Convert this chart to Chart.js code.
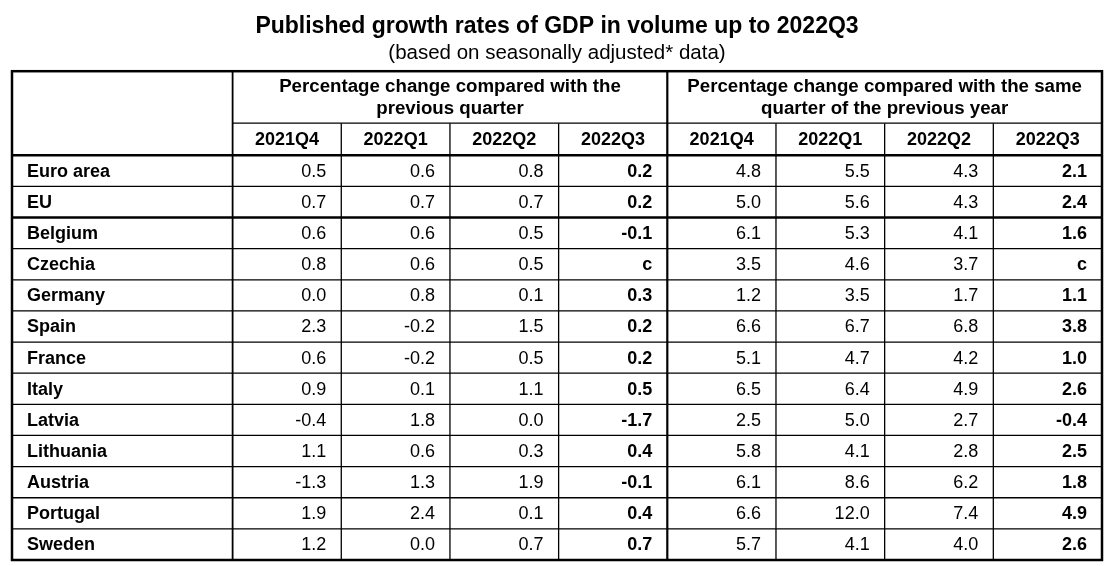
<!DOCTYPE html>
<html lang="en">
<head>
<meta charset="UTF-8">
<title>Published growth rates of GDP in volume up to 2022Q3</title>
<script src="https://cdn.jsdelivr.net/npm/chart.js@4.4.0/dist/chart.umd.min.js"></script>
<style>
  html, body { margin: 0; padding: 0; background: #fff; }
</style>
</head>
<body>
<canvas id="gdpTable" width="1113" height="566"></canvas>
<script>
const countries = ['Euro area', 'EU', 'Belgium', 'Czechia', 'Germany', 'Spain', 'France',
                   'Italy', 'Latvia', 'Lithuania', 'Austria', 'Portugal', 'Sweden'];
const quarters = ['2021Q4', '2022Q1', '2022Q2', '2022Q3'];
const groupTitles = [
  ['Percentage change compared with the', 'previous quarter'],
  ['Percentage change compared with the same', 'quarter of the previous year']
];

// q-o-q (null = confidential, shown as "c")
const qoq2021Q4 = [0.5, 0.7, 0.6, 0.8, 0.0, 2.3, 0.6, 0.9, -0.4, 1.1, -1.3, 1.9, 1.2];
const qoq2022Q1 = [0.6, 0.7, 0.6, 0.6, 0.8, -0.2, -0.2, 0.1, 1.8, 0.6, 1.3, 2.4, 0.0];
const qoq2022Q2 = [0.8, 0.7, 0.5, 0.5, 0.1, 1.5, 0.5, 1.1, 0.0, 0.3, 1.9, 0.1, 0.7];
const qoq2022Q3 = [0.2, 0.2, -0.1, null, 0.3, 0.2, 0.2, 0.5, -1.7, 0.4, -0.1, 0.4, 0.7];
// y-o-y
const yoy2021Q4 = [4.8, 5.0, 6.1, 3.5, 1.2, 6.6, 5.1, 6.5, 2.5, 5.8, 6.1, 6.6, 5.7];
const yoy2022Q1 = [5.5, 5.6, 5.3, 4.6, 3.5, 6.7, 4.7, 6.4, 5.0, 4.1, 8.6, 12.0, 4.1];
const yoy2022Q2 = [4.3, 4.3, 4.1, 3.7, 1.7, 6.8, 4.2, 4.9, 2.7, 2.8, 6.2, 7.4, 4.0];
const yoy2022Q3 = [2.1, 2.4, 1.6, null, 1.1, 3.8, 1.0, 2.6, -0.4, 2.5, 1.8, 4.9, 2.6];

const columns = [qoq2021Q4, qoq2022Q1, qoq2022Q2, qoq2022Q3,
                 yoy2021Q4, yoy2022Q1, yoy2022Q2, yoy2022Q3];

const FONT = "'Liberation Sans', Arial, sans-serif";
const LABEL_W = 2.03;      // width of the country column, in column units
const HEAD1 = -2.7;        // top of first header row (y units = data rows)
const HEAD2 = -1.03;       // top of quarter header row
const PAD = 15;            // cell padding in px

function fmt(v) {
  return v === null ? 'c' : v.toFixed(1);
}

// one scatter dataset per value column, each point = anchor at cell's right edge
const datasets = columns.map((vals, i) => ({
  label: (i < 4 ? 'q-o-q ' : 'y-o-y ') + quarters[i % 4],
  data: vals.map((v, r) => ({ x: LABEL_W + i + 1, y: r + 0.5, v: v })),
  pointRadius: 0,
  bold: i % 4 === 3
}));
datasets.push({
  label: 'countries',
  data: countries.map((c, r) => ({ x: 0, y: r + 0.5, v: c })),
  pointRadius: 0,
  isLabel: true
});

const tablePlugin = {
  id: 'gdpTable',
  afterDatasetsDraw(chart) {
    const { ctx, scales: { x, y } } = chart;
    const X = v => x.getPixelForValue(v);
    const Y = v => y.getPixelForValue(v);
    const xMax = LABEL_W + 8;
    const nRows = countries.length;

    ctx.save();
    ctx.strokeStyle = '#000';
    function line(x0, y0, x1, y1, w) {
      ctx.lineWidth = w;
      ctx.beginPath();
      ctx.moveTo(X(x0), Y(y0));
      ctx.lineTo(X(x1), Y(y1));
      ctx.stroke();
    }

    // thin grid lines
    for (let r = 1; r < nRows; r++) {
      if (r !== 2) line(0, r, xMax, r, 1.3);
    }
    line(LABEL_W, HEAD2, xMax, HEAD2, 1.3);
    for (let i = 1; i < 8; i++) {
      if (i !== 4) line(LABEL_W + i, HEAD2, LABEL_W + i, nRows, 1.3);
    }
    // heavier lines
    line(LABEL_W, HEAD1, LABEL_W, nRows, 1.8);
    line(LABEL_W + 4, HEAD1, LABEL_W + 4, nRows, 2.2);
    line(0, 0, xMax, 0, 2.5);
    line(0, 2, xMax, 2, 2.5);
    ctx.lineWidth = 2.5;
    ctx.strokeRect(X(0), Y(HEAD1), X(xMax) - X(0), Y(nRows) - Y(HEAD1));

    // header texts
    ctx.fillStyle = '#000';
    ctx.textBaseline = 'middle';
    ctx.textAlign = 'center';
    ctx.font = 'bold 18.7px ' + FONT;
    const midH1 = (Y(HEAD1) + Y(HEAD2)) / 2;
    groupTitles.forEach((lines, g) => {
      const cx = X(LABEL_W + g * 4 + 2);
      ctx.fillText(lines[0], cx, midH1 - 10);
      ctx.fillText(lines[1], cx, midH1 + 12);
    });
    ctx.font = 'bold 18px ' + FONT;
    for (let i = 0; i < 8; i++) {
      ctx.fillText(quarters[i % 4], X(LABEL_W + i + 0.5), Y((HEAD2 + 0) / 2) + 1);
    }

    // cells, placed at the dataset points
    chart.data.datasets.forEach((ds, di) => {
      const meta = chart.getDatasetMeta(di);
      meta.data.forEach((pt, j) => {
        const raw = ds.data[j];
        if (ds.isLabel) {
          ctx.textAlign = 'left';
          ctx.font = 'bold 18px ' + FONT;
          ctx.fillText(raw.v, pt.x + PAD, pt.y + 1);
        } else {
          ctx.textAlign = 'right';
          ctx.font = (ds.bold ? 'bold ' : '') + '18px ' + FONT;
          ctx.fillText(fmt(raw.v), pt.x - PAD, pt.y + 1);
        }
      });
    });
    ctx.restore();
  }
};

new Chart(document.getElementById('gdpTable'), {
  type: 'scatter',
  data: { datasets: datasets },
  plugins: [tablePlugin],
  options: {
    responsive: false,
    animation: false,
    events: [],
    layout: { padding: { left: 12, right: 11, top: 0, bottom: 6 } },
    scales: {
      x: { type: 'linear', min: 0, max: LABEL_W + 8, display: false },
      y: { type: 'linear', min: HEAD1, max: countries.length, reverse: true, display: false }
    },
    plugins: {
      legend: { display: false },
      tooltip: { enabled: false },
      title: {
        display: true,
        text: 'Published growth rates of GDP in volume up to 2022Q3',
        color: '#000',
        font: { family: FONT, size: 23, weight: 'bold' },
        padding: { top: 13, bottom: 0 }
      },
      subtitle: {
        display: true,
        text: '(based on seasonally adjusted* data)',
        color: '#000',
        font: { family: FONT, size: 20.5 },
        padding: { top: 0, bottom: 6 }
      }
    }
  }
});
</script>
</body>
</html>
